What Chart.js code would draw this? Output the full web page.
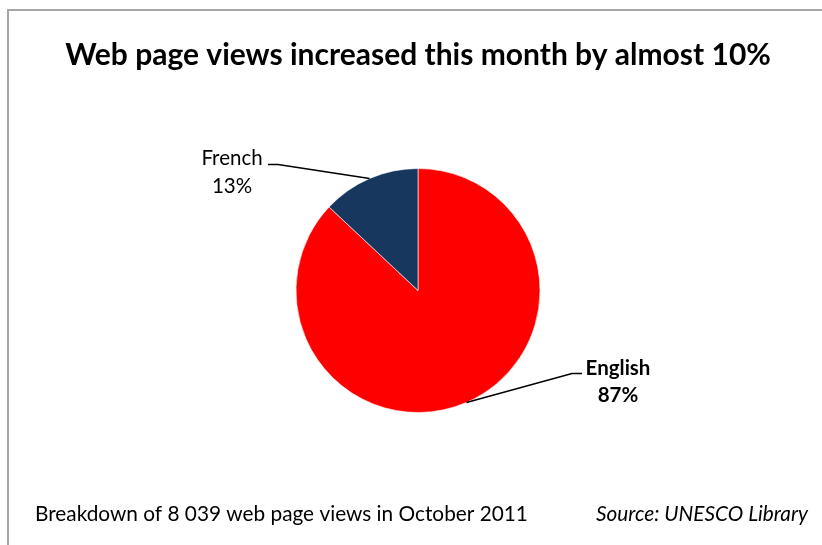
<!DOCTYPE html>
<html>
<head>
<meta charset="utf-8">
<script src="https://cdn.jsdelivr.net/npm/chart.js@4"></script>
<style>
  body { margin: 0; background: #fff; }
  .frame {
    position: absolute; left: 7px; top: 9px; width: 830px; height: 560px;
    border-left: 2px solid #a6a6a6; border-top: 2px solid #a6a6a6;
  }
  canvas { position: absolute; left: 0; top: 0; }
</style>
</head>
<body>
<div class="frame"></div>
<canvas id="chart" width="822" height="545"></canvas>
<script>

// Pie data

const languages = ["English", "French"];
const shares = [87, 13];
const sliceColors = ["#ff0000", "#17375e"];

const titleText = "Web page views increased this month by almost 10%";
const noteText = "Breakdown of 8 039 web page views in October 2011";
const sourceText = "Source: UNESCO Library";

const FONT = "Lato, 'Open Sans', sans-serif";

// where each callout sits, relative to the pie centre
const callouts = [
  { text: [78, 105], elbow: [154, 83], tick: [164, 83], labelX: 200, bold: true },
  { text: [-132, -104], elbow: [-140, -126], tick: [-150, -126], labelX: -186, bold: false }
];

// labels with leader lines + footer text
const calloutPlugin = {
  id: "callouts",
  afterDatasetsDraw(chart) {
    const ctx = chart.ctx;
    const meta = chart.getDatasetMeta(0);
    const total = shares.reduce((a, b) => a + b, 0);

    meta.data.forEach((arc, i) => {
      const p = arc.getProps(["x", "y", "startAngle", "endAngle", "outerRadius"], true);
      const mid = (p.startAngle + p.endAngle) / 2;
      const ex = p.x + Math.cos(mid) * p.outerRadius;
      const ey = p.y + Math.sin(mid) * p.outerRadius;
      const c = callouts[i];

      ctx.save();
      ctx.strokeStyle = "#000";
      ctx.lineWidth = 1.5;
      ctx.beginPath();
      ctx.moveTo(ex, ey);
      ctx.lineTo(p.x + c.elbow[0], p.y + c.elbow[1]);
      ctx.lineTo(p.x + c.tick[0], p.y + c.tick[1]);
      ctx.stroke();

      ctx.fillStyle = "#000";
      ctx.textAlign = "center";
      ctx.textBaseline = "middle";
      ctx.font = (c.bold ? "bold " : "") + "20.5px " + FONT;
      const pct = Math.round(shares[i] / total * 100) + "%";
      ctx.fillText(languages[i], p.x + c.labelX, p.y + c.text[0]);
      ctx.fillText(pct, p.x + c.labelX, p.y + c.text[1]);
      ctx.restore();
    });

    ctx.save();
    ctx.fillStyle = "#000";
    ctx.textBaseline = "middle";
    ctx.font = "20.8px " + FONT;
    ctx.textAlign = "left";
    ctx.fillText(noteText, 35, 514);
    ctx.font = "italic 20.8px " + FONT;
    ctx.textAlign = "right";
    ctx.fillText(sourceText, 808, 514);
    ctx.restore();
  }
};

new Chart(document.getElementById("chart"), {
  type: "pie",
  data: {
    labels: languages,
    datasets: [{
      data: shares,
      backgroundColor: sliceColors,
      borderColor: "rgba(255,255,255,0.6)",
      borderWidth: 1
    }]
  },
  options: {
    responsive: false,
    animation: false,
    // wide chart area so the title is never squeezed; pie centres at x=418
    layout: { padding: { top: 0, bottom: 132, left: 14, right: 0 } },
    plugins: {
      legend: { display: false },
      tooltip: { enabled: false },
      title: {
        display: true,
        text: titleText,
        color: "#000",
        font: { family: FONT, size: 30, weight: "bold", lineHeight: 1.2 },
        padding: { top: 37, bottom: 95 }
      }
    }
  },
  plugins: [calloutPlugin]
});

</script>
</body>
</html>
